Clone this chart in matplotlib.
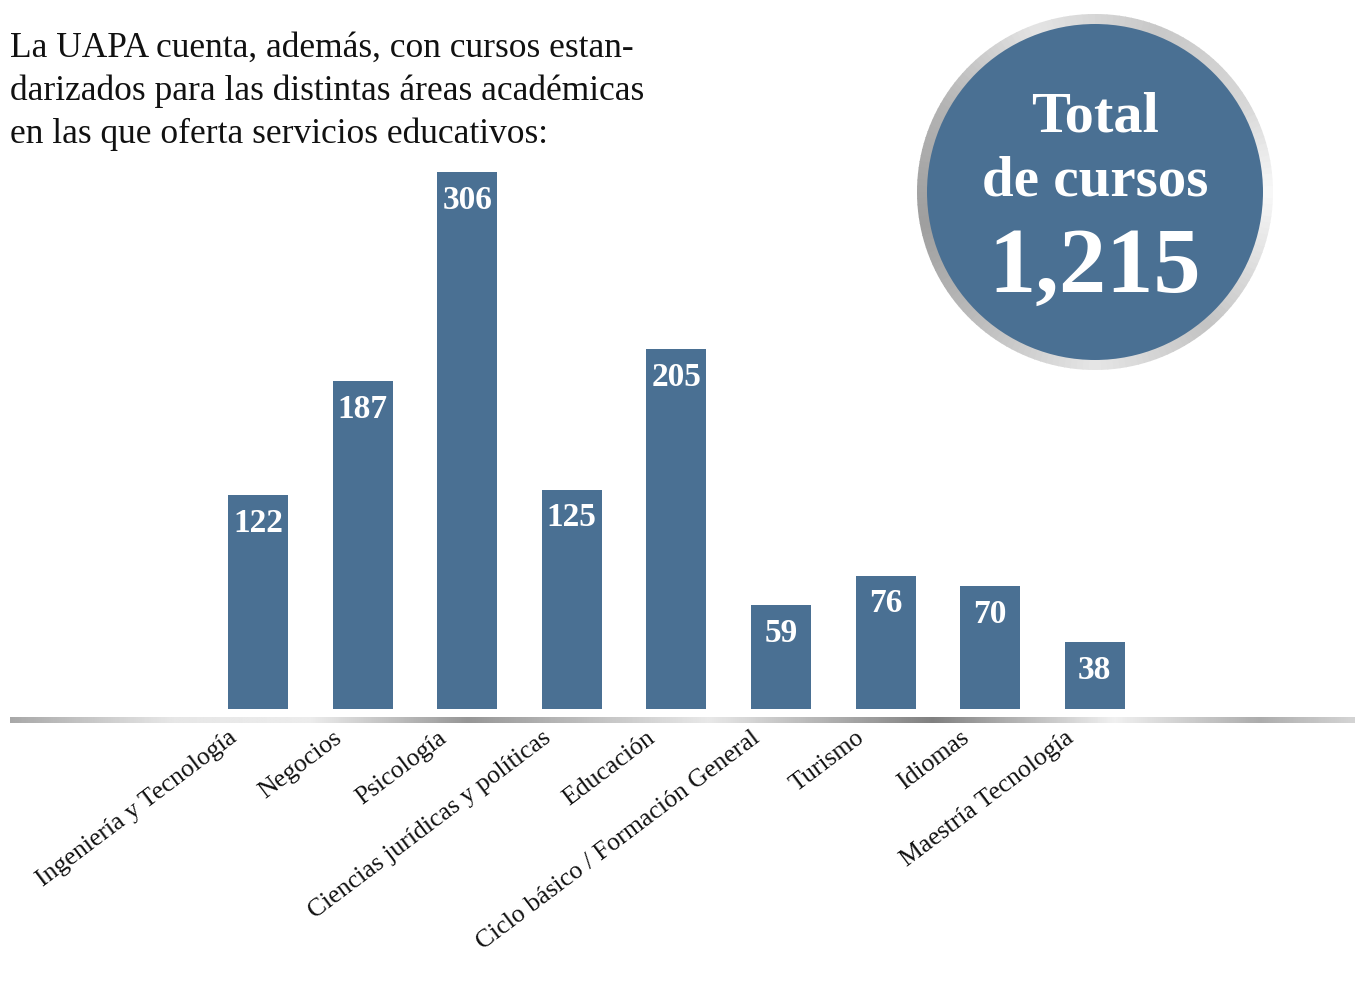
import numpy as np
import matplotlib
matplotlib.use("Agg")
import matplotlib.pyplot as plt
import matplotlib.transforms as mtransforms
from matplotlib.patches import Circle, Wedge

categories = ["Ingeniería y Tecnología", "Negocios", "Psicología",
              "Ciencias jurídicas y políticas", "Educación",
              "Ciclo básico / Formación General", "Turismo", "Idiomas",
              "Maestría Tecnología"]
courses = [122, 187, 306, 125, 205, 59, 76, 70, 38]
circle_lines = ["Total", "de cursos", "1,215"]
intro_lines = ["La UAPA cuenta, además, con cursos estan-",
               "darizados para las distintas áreas académicas",
               "en las que oferta servicios educativos:"]

BLUE = "#4a7093"
W, H = 1355, 1004
plt.rcParams["font.family"] = ["Liberation Serif", "DejaVu Serif"]

fig = plt.figure(figsize=(W / 100, H / 100), dpi=100)

# background layer in pixel units (y measured from the bottom)
bg = fig.add_axes([0, 0, 1, 1])
bg.axis("off")

def fy(y):
    return H - y

# silver baseline under the bars
stops_x = [10, 170, 310, 467, 709, 933, 1115, 1260, 1355]
stops_v = [168, 230, 236, 150, 232, 128, 240, 172, 212]
xs = np.linspace(10, 1355, 700)
grad = np.interp(xs, stops_x, stops_v)[None, :] / 255
bg.imshow(np.repeat(grad, 2, axis=0), cmap="gray", vmin=0, vmax=1,
          extent=(10, 1355, fy(724), fy(718)), aspect="auto",
          interpolation="bilinear")

# badge with silver ring
cx, cy, r_out, r_in = 1095, fy(193), 178, 168
ang_stops = [0, 30, 70, 110, 150, 190, 230, 270, 310, 360]
ang_vals = [248, 215, 200, 228, 180, 158, 190, 230, 195, 248]
for a in range(0, 360, 2):
    g = np.interp(a + 1, ang_stops, ang_vals) / 255
    bg.add_patch(Wedge((cx, cy), r_out, a, a + 2.3, width=r_out - r_in + 1,
                       facecolor=(g, g, g), edgecolor="none"))
bg.add_patch(Circle((cx, cy), r_in, facecolor=BLUE, edgecolor="none"))

bg.text(cx, fy(132), circle_lines[0], ha="center", va="baseline",
        color="white", fontsize=42, fontweight="bold")
bg.text(cx, fy(195), circle_lines[1], ha="center", va="baseline",
        color="white", fontsize=41, fontweight="bold")
bg.text(cx, fy(292), circle_lines[2], ha="center", va="baseline",
        color="white", fontsize=68, fontweight="bold")

for i, line in enumerate(intro_lines):
    bg.text(10, fy(57 + 43 * i), line, ha="left", va="baseline",
            color="#111111", fontsize=25.5)

bg.set_xlim(0, W)
bg.set_ylim(0, H)

# bar chart
spacing = 104.6
px_per_unit = 1.755
ax = fig.add_axes([10 / W, (H - 710) / H, 1345 / W, 550 / H])
ax.patch.set_alpha(0)
x = np.arange(len(categories))
bars = ax.bar(x, courses, width=60 / spacing, color=BLUE)
ax.set_xlim(-(258 - 10) / spacing, (1355 - 258) / spacing)
ax.set_ylim(0, 550 / px_per_unit)

for i, v in enumerate(courses):
    ax.annotate(str(v), (i, v), xytext=(0, -8.5), textcoords="offset points",
                ha="center", va="top", color="white", fontsize=24,
                fontweight="bold")

ax.set_xticks(x, categories, rotation=37, ha="right", va="top",
              rotation_mode="anchor", fontsize=18.5, color="#111111")
ax.tick_params(axis="x", length=0, pad=12)
ax.set_yticks([])
offset = mtransforms.ScaledTranslation(-0.30, 0, fig.dpi_scale_trans)
for lbl in ax.get_xticklabels():
    lbl.set_transform(lbl.get_transform() + offset)
for s in ax.spines.values():
    s.set_visible(False)

fig.savefig("out.png", dpi=100)
